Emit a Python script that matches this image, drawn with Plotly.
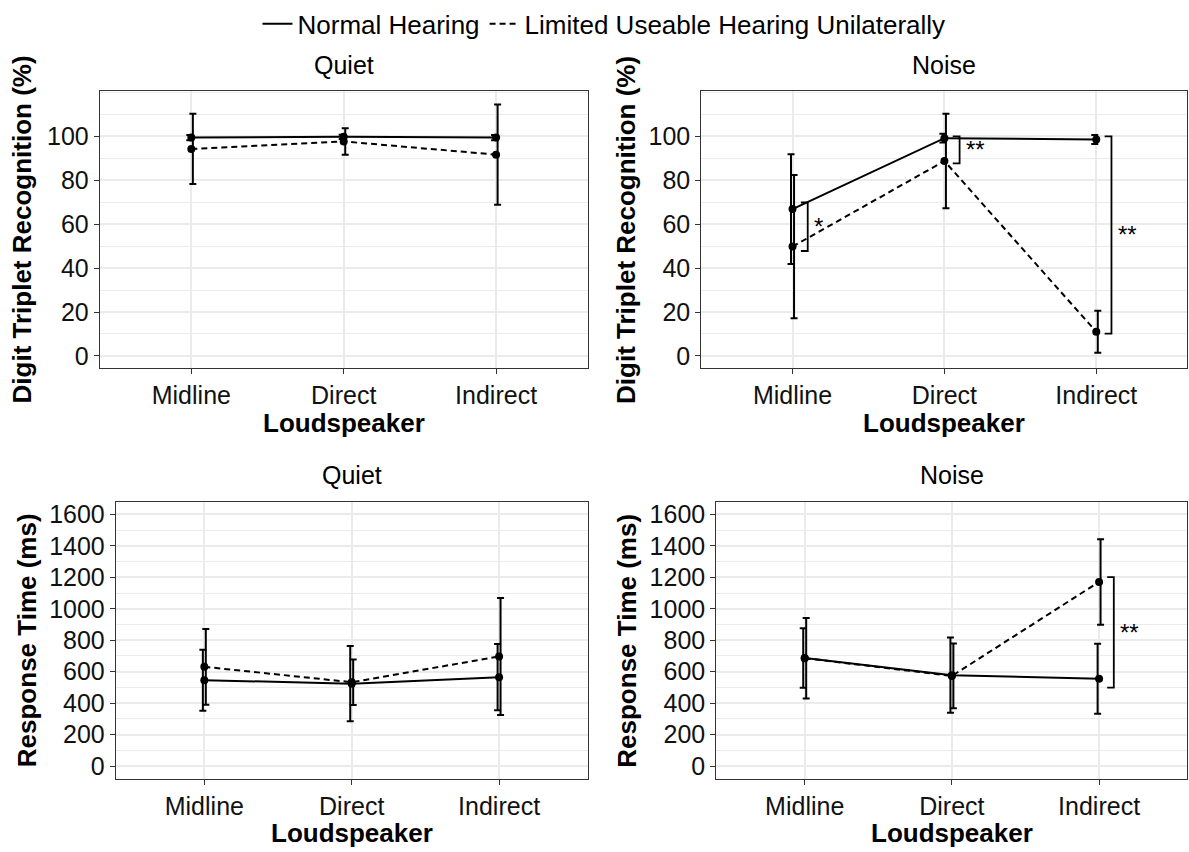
import plotly.graph_objects as go

# ---------------- data ----------------
categories = ["Midline", "Direct", "Indirect"]
series_names = ["Normal Hearing", "Limited Useable Hearing Unilaterally"]

quiet_dtr_nh = [99.5, 99.8, 99.5]
quiet_dtr_nh_err = [1.2, 1.0, 1.2]
quiet_dtr_luh = [94.3, 97.7, 91.7]
quiet_dtr_luh_err = [16.0, 6.0, 22.8]

noise_dtr_nh = [66.9, 99.2, 98.6]
noise_dtr_nh_err = [25.0, 2.0, 2.0]
noise_dtr_luh = [49.8, 88.8, 11.0]
noise_dtr_luh_err = [32.6, 21.5, 9.6]

quiet_rt_nh = [546, 524, 565]
quiet_rt_nh_err = [194, 240, 211]
quiet_rt_luh = [631, 533, 697]
quiet_rt_luh_err = [241, 145, 372]

noise_rt_nh = [687, 578, 555]
noise_rt_nh_err = [189, 239, 222]
noise_rt_luh = [686, 573, 1171]
noise_rt_luh_err = [256, 206, 272]

panel_titles = ["Quiet", "Noise", "Quiet", "Noise"]
y_titles = ["Digit Triplet Recognition (%)", "Digit Triplet Recognition (%)",
            "Response Time (ms)", "Response Time (ms)"]
x_title = "Loudspeaker"

dtr_ticks = [0, 20, 40, 60, 80, 100]
rt_ticks = [0, 200, 400, 600, 800, 1000, 1200, 1400, 1600]

# significance brackets
sig_panel = [2, 2, 2, 4]
sig_cat = [0, 1, 2, 2]
sig_top = [69.9, 100, 100, 1201]
sig_bottom = [47.8, 87.7, 10.2, 498]
sig_label = ["*", "**", "**", "**"]

# ---------------- layout geometry ----------------
W, H = 1189, 852
FONT = "Liberation Sans, Arial, sans-serif"
BLACK = "#000000"
GRID = "#ebebeb"
BORDER = "#333333"

panels = [
    dict(nh=quiet_dtr_nh, nhe=quiet_dtr_nh_err, luh=quiet_dtr_luh, luhe=quiet_dtr_luh_err,
         xdom=[100 / W, 588 / W], ydom=[1 - 366 / H, 1 - 86.7 / H], yr=[-5.5, 120.7],
         ticks=dtr_ticks, minor=10, ytx=23, titley=61, axy=421),
    dict(nh=noise_dtr_nh, nhe=noise_dtr_nh_err, luh=noise_dtr_luh, luhe=noise_dtr_luh_err,
         xdom=[702 / W, 0.9995], ydom=[1 - 366 / H, 1 - 86.7 / H], yr=[-5.5, 120.7],
         ticks=dtr_ticks, minor=10, ytx=627, titley=61, axy=421),
    dict(nh=quiet_rt_nh, nhe=quiet_rt_nh_err, luh=quiet_rt_luh, luhe=quiet_rt_luh_err,
         xdom=[116 / W, 588 / W], ydom=[1 - 780 / H, 1 - 501 / H], yr=[-80, 1680],
         ticks=rt_ticks, minor=100, ytx=27, titley=474, axy=835),
    dict(nh=noise_rt_nh, nhe=noise_rt_nh_err, luh=noise_rt_luh, luhe=noise_rt_luh_err,
         xdom=[717 / W, 0.9995], ydom=[1 - 780 / H, 1 - 501 / H], yr=[-80, 1680],
         ticks=rt_ticks, minor=100, ytx=628, titley=474, axy=835),
]

DODGE = 0.01
xs = list(range(len(categories)))

fig = go.Figure()
annotations = []
shapes = []

for i, p in enumerate(panels):
    k = "" if i == 0 else str(i + 1)
    xa, ya = "x" + k, "y" + k
    for j, (vals, errs, dash) in enumerate([(p["nh"], p["nhe"], "solid"),
                                             (p["luh"], p["luhe"], "6px,4px")]):
        # connecting line
        fig.add_trace(go.Scatter(
            x=xs, y=vals, mode="lines", name=series_names[j],
            line=dict(color=BLACK, width=2, dash=dash),
            showlegend=(i == 0), legendgroup=series_names[j],
            xaxis=xa, yaxis=ya, hoverinfo="skip"))
        # error bars (slightly dodged)
        off = -DODGE if j == 0 else DODGE
        fig.add_trace(go.Scatter(
            x=[v + off for v in xs], y=vals, mode="markers",
            marker=dict(size=1, color="rgba(0,0,0,0)"),
            error_y=dict(type="data", array=errs, visible=True,
                         color=BLACK, thickness=2, width=3.5),
            showlegend=False, legendgroup=series_names[j],
            xaxis=xa, yaxis=ya, hoverinfo="skip"))
        # points
        fig.add_trace(go.Scatter(
            x=xs, y=vals, mode="markers", name=series_names[j],
            marker=dict(size=8, color=BLACK),
            showlegend=False, legendgroup=series_names[j],
            xaxis=xa, yaxis=ya))

    axis_common = dict(showline=True, linecolor=BORDER, linewidth=1.3, mirror=True,
                       ticks="outside", ticklen=5, tickwidth=1.3, tickcolor=BORDER,
                       tickfont=dict(family=FONT, size=25, color="#111111"),
                       showgrid=True, gridcolor=GRID, gridwidth=1.6, zeroline=False)
    fig.layout["xaxis" + k] = dict(
        domain=p["xdom"], range=[-0.6, 2.6], tickmode="array",
        tickvals=xs, ticktext=categories, anchor=ya, **axis_common)
    fig.layout["yaxis" + k] = dict(
        domain=p["ydom"], range=p["yr"], tickmode="array", tickvals=p["ticks"],
        anchor=xa,
        minor=dict(dtick=p["minor"], tick0=p["minor"], showgrid=True,
                   gridcolor=GRID, gridwidth=0.8, ticks=""),
        **axis_common)

    # panel title
    annotations.append(dict(text=panel_titles[i], xref=xa + " domain", x=0.5,
                            yref="paper", y=1 - p["titley"] / H, showarrow=False,
                            xanchor="center", yanchor="middle",
                            font=dict(family=FONT, size=25, color=BLACK)))
    # x axis title
    annotations.append(dict(text="<b>" + x_title + "</b>", xref=xa + " domain", x=0.5,
                            yref="paper", y=1 - p["axy"] / H, showarrow=False,
                            xanchor="center", yanchor="middle",
                            font=dict(family=FONT, size=26, color=BLACK)))
    # y axis title
    annotations.append(dict(text="<b>" + y_titles[i] + "</b>", xref="paper",
                            x=p["ytx"] / W, yref=ya + " domain", y=0.5,
                            textangle=-90, showarrow=False,
                            xanchor="center", yanchor="middle",
                            font=dict(family=FONT, size=26, color=BLACK)))

# significance brackets
for pn, c, yt, yb, lab in zip(sig_panel, sig_cat, sig_top, sig_bottom, sig_label):
    k = "" if pn == 1 else str(pn)
    x0, x1 = c + 0.055, c + 0.10
    shapes.append(dict(type="path", xref="x" + k, yref="y" + k,
                       path=f"M {x0},{yt} L {x1},{yt} L {x1},{yb} L {x0},{yb}",
                       line=dict(color=BLACK, width=1.8)))
    annotations.append(dict(text=lab, xref="x" + k, yref="y" + k,
                            x=c + 0.13, y=(yt + yb) / 2, showarrow=False,
                            xanchor="left", yanchor="middle",
                            font=dict(family=FONT, size=24, color=BLACK)))

fig.update_layout(
    width=W, height=H,
    margin=dict(l=0, r=0, t=0, b=0),
    paper_bgcolor="white", plot_bgcolor="white",
    font=dict(family=FONT, color=BLACK),
    showlegend=True,
    legend=dict(orientation="h", x=0.5 + 10 / W, xanchor="center",
                y=1 - 19 / H, yanchor="middle",
                font=dict(family=FONT, size=26, color=BLACK),
                itemwidth=30, bgcolor="rgba(0,0,0,0)", tracegroupgap=0),
    annotations=annotations,
    shapes=shapes,
)

fig.write_html("out.html", config={"displayModeBar": False},
               post_script="document.body.style.margin='0px';")
